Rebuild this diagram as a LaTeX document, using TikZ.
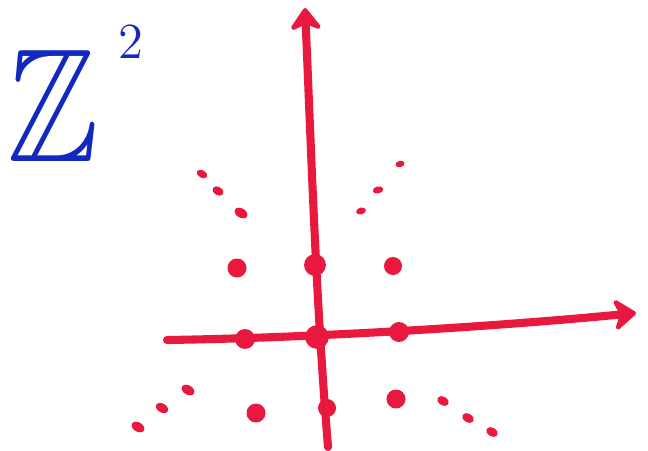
\documentclass[tikz,border=0pt]{standalone}
\usepackage{amssymb}
\usepackage{xcolor}
\usetikzlibrary{arrows.meta, shapes.geometric}

\definecolor{pen}{RGB}{232,24,62}
\definecolor{ink}{RGB}{18,40,190}

\begin{document}
\begin{tikzpicture}

\tikzset{
    axis/.style={pen, line width=2.3pt, line cap=round, -{Stealth[round, length=2.6mm, width=3.8mm]}},
    bigdot/.style={circle, fill=pen, inner sep=0pt, minimum size=1.9mm},
    tinydot/.style={ellipse, fill=pen, inner sep=0pt, minimum width=1.25mm, minimum height=0.85mm},
    label/.style={text=ink, inner sep=0pt}
}

\useasboundingbox (0,0) rectangle (6.48,4.5);

%====================================================
% LABEL
%====================================================
\node[label, font=\fontsize{46}{50}\selectfont, xscale=0.85, transform shape] (zz) at (0.53,3.44) {$\mathbb{Z}$};
\node[label, font=\fontsize{14}{16}\selectfont] (sq) at (1.31,4.08) {$2$};

%====================================================
% AXES
%====================================================
\coordinate (ybot) at (3.28,0.03);
\coordinate (ytop) at (3.05,4.42);
\coordinate (xleft) at (1.67,1.10);
\coordinate (xright) at (6.36,1.37);

\draw[axis] (ybot) .. controls (3.16,1.5) and (3.12,2.8) .. (ytop);
\draw[axis] (xleft) .. controls (3.0,1.12) and (4.8,1.22) .. (xright);

%====================================================
% LATTICE POINTS
%====================================================
\foreach \x/\y/\s [count=\i] in {
    2.37/1.82/1.0, 3.15/1.85/1.15, 3.93/1.84/0.95,
    2.45/1.11/1.05, 3.17/1.13/1.25, 3.99/1.18/1.05,
    2.56/0.37/1.0, 3.27/0.42/0.95, 3.96/0.51/1.0
}{
    \node[bigdot, scale=\s] (p\i) at (\x,\y) {};
}

% dots running off to the corners
\foreach \x/\y/\a/\s [count=\i] in {
    2.02/2.76/-30/0.9, 2.18/2.59/-30/0.95, 2.41/2.37/-30/1.1,
    4.00/2.86/15/0.75, 3.78/2.60/15/0.85, 3.61/2.39/15/0.8,
    1.88/0.60/-30/1.1, 1.62/0.42/-30/1.05, 1.38/0.23/-30/1.1,
    4.43/0.49/-30/1.0, 4.68/0.32/-30/1.0, 4.92/0.18/-30/1.0
}{
    \node[tinydot, rotate=\a, scale=\s] (q\i) at (\x,\y) {};
}

\end{tikzpicture}
\end{document}
